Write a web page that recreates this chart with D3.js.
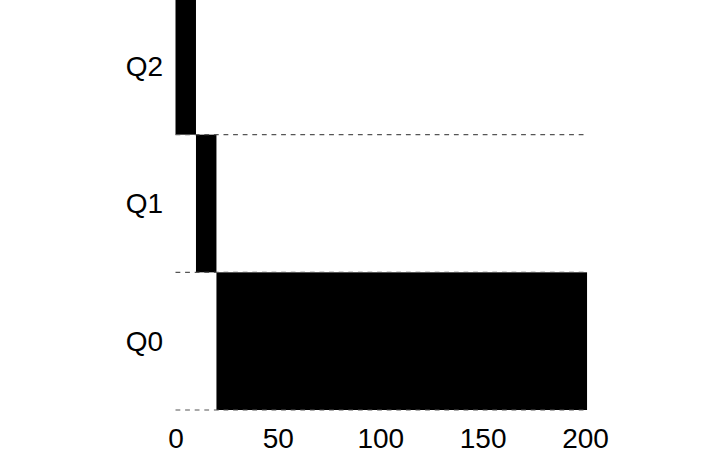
<!DOCTYPE html>
<html>
<head>
<meta charset="utf-8">
<script src="https://cdn.jsdelivr.net/npm/d3@7"></script>
<style>
  body { margin: 0; background: #fff; }
  text { font-family: "Liberation Sans", Arial, sans-serif; }
</style>
</head>
<body>
<div id="chart"></div>
<script>
// Queues, top to bottom in the picture
var queues = ["Q0", "Q1", "Q2"];

// Time slices the job spends in each queue (ms)
var sliceQueue = ["Q2", "Q1", "Q0"];
var sliceStart = [0, 10, 20];
var sliceStop = [10, 20, 201];

var xTicks = [0, 50, 100, 150, 200];
var xMax = 200;

var width = 714,
    height = 460;

var svg = d3.select("#chart").append("svg")
    .attr("width", width)
    .attr("height", height);

var xScale = d3.scaleLinear()
    .domain([0, xMax])
    .range([175.5, 585]);

var yScale = d3.scaleBand()
    .domain(queues)
    .range([410, -3]);

// Bars
svg.append("g").selectAll("rect")
    .data(sliceQueue)
  .enter().append("rect")
    .attr("x", function(d, i) { return xScale(sliceStart[i]); })
    .attr("y", function(d) { return yScale(d); })
    .attr("width", function(d, i) { return xScale(sliceStop[i]) - xScale(sliceStart[i]); })
    .attr("height", yScale.bandwidth())
    .style("fill", "#000");

// Dashed row separators
svg.append("g").selectAll("line")
    .data(queues)
  .enter().append("line")
    .attr("x1", xScale(0))
    .attr("x2", xScale(xMax))
    .attr("y1", function(d) { return yScale(d) + yScale.bandwidth(); })
    .attr("y2", function(d) { return yScale(d) + yScale.bandwidth(); })
    .style("stroke", "#555")
    .style("stroke-width", 1.2)
    .style("stroke-dasharray", "4.8,4.8");

// Queue labels
svg.append("g").selectAll("text")
    .data(queues)
  .enter().append("text")
    .attr("x", 163)
    .attr("y", function(d) { return yScale(d) + yScale.bandwidth() / 2; })
    .attr("dy", "0.35em")
    .attr("text-anchor", "end")
    .style("font-size", "28px")
    .text(function(d) { return d; });

// X axis, labels only
var xAxis = svg.append("g")
    .attr("transform", "translate(0,414)")
    .call(d3.axisBottom(xScale).tickValues(xTicks).tickSize(0).tickPadding(0));

xAxis.select(".domain").remove();
xAxis.selectAll("text")
    .attr("dy", "1.2em")
    .style("font-family", "Liberation Sans, Arial, sans-serif")
    .style("font-size", "28px")
    .style("fill", "#000");
</script>
</body>
</html>
